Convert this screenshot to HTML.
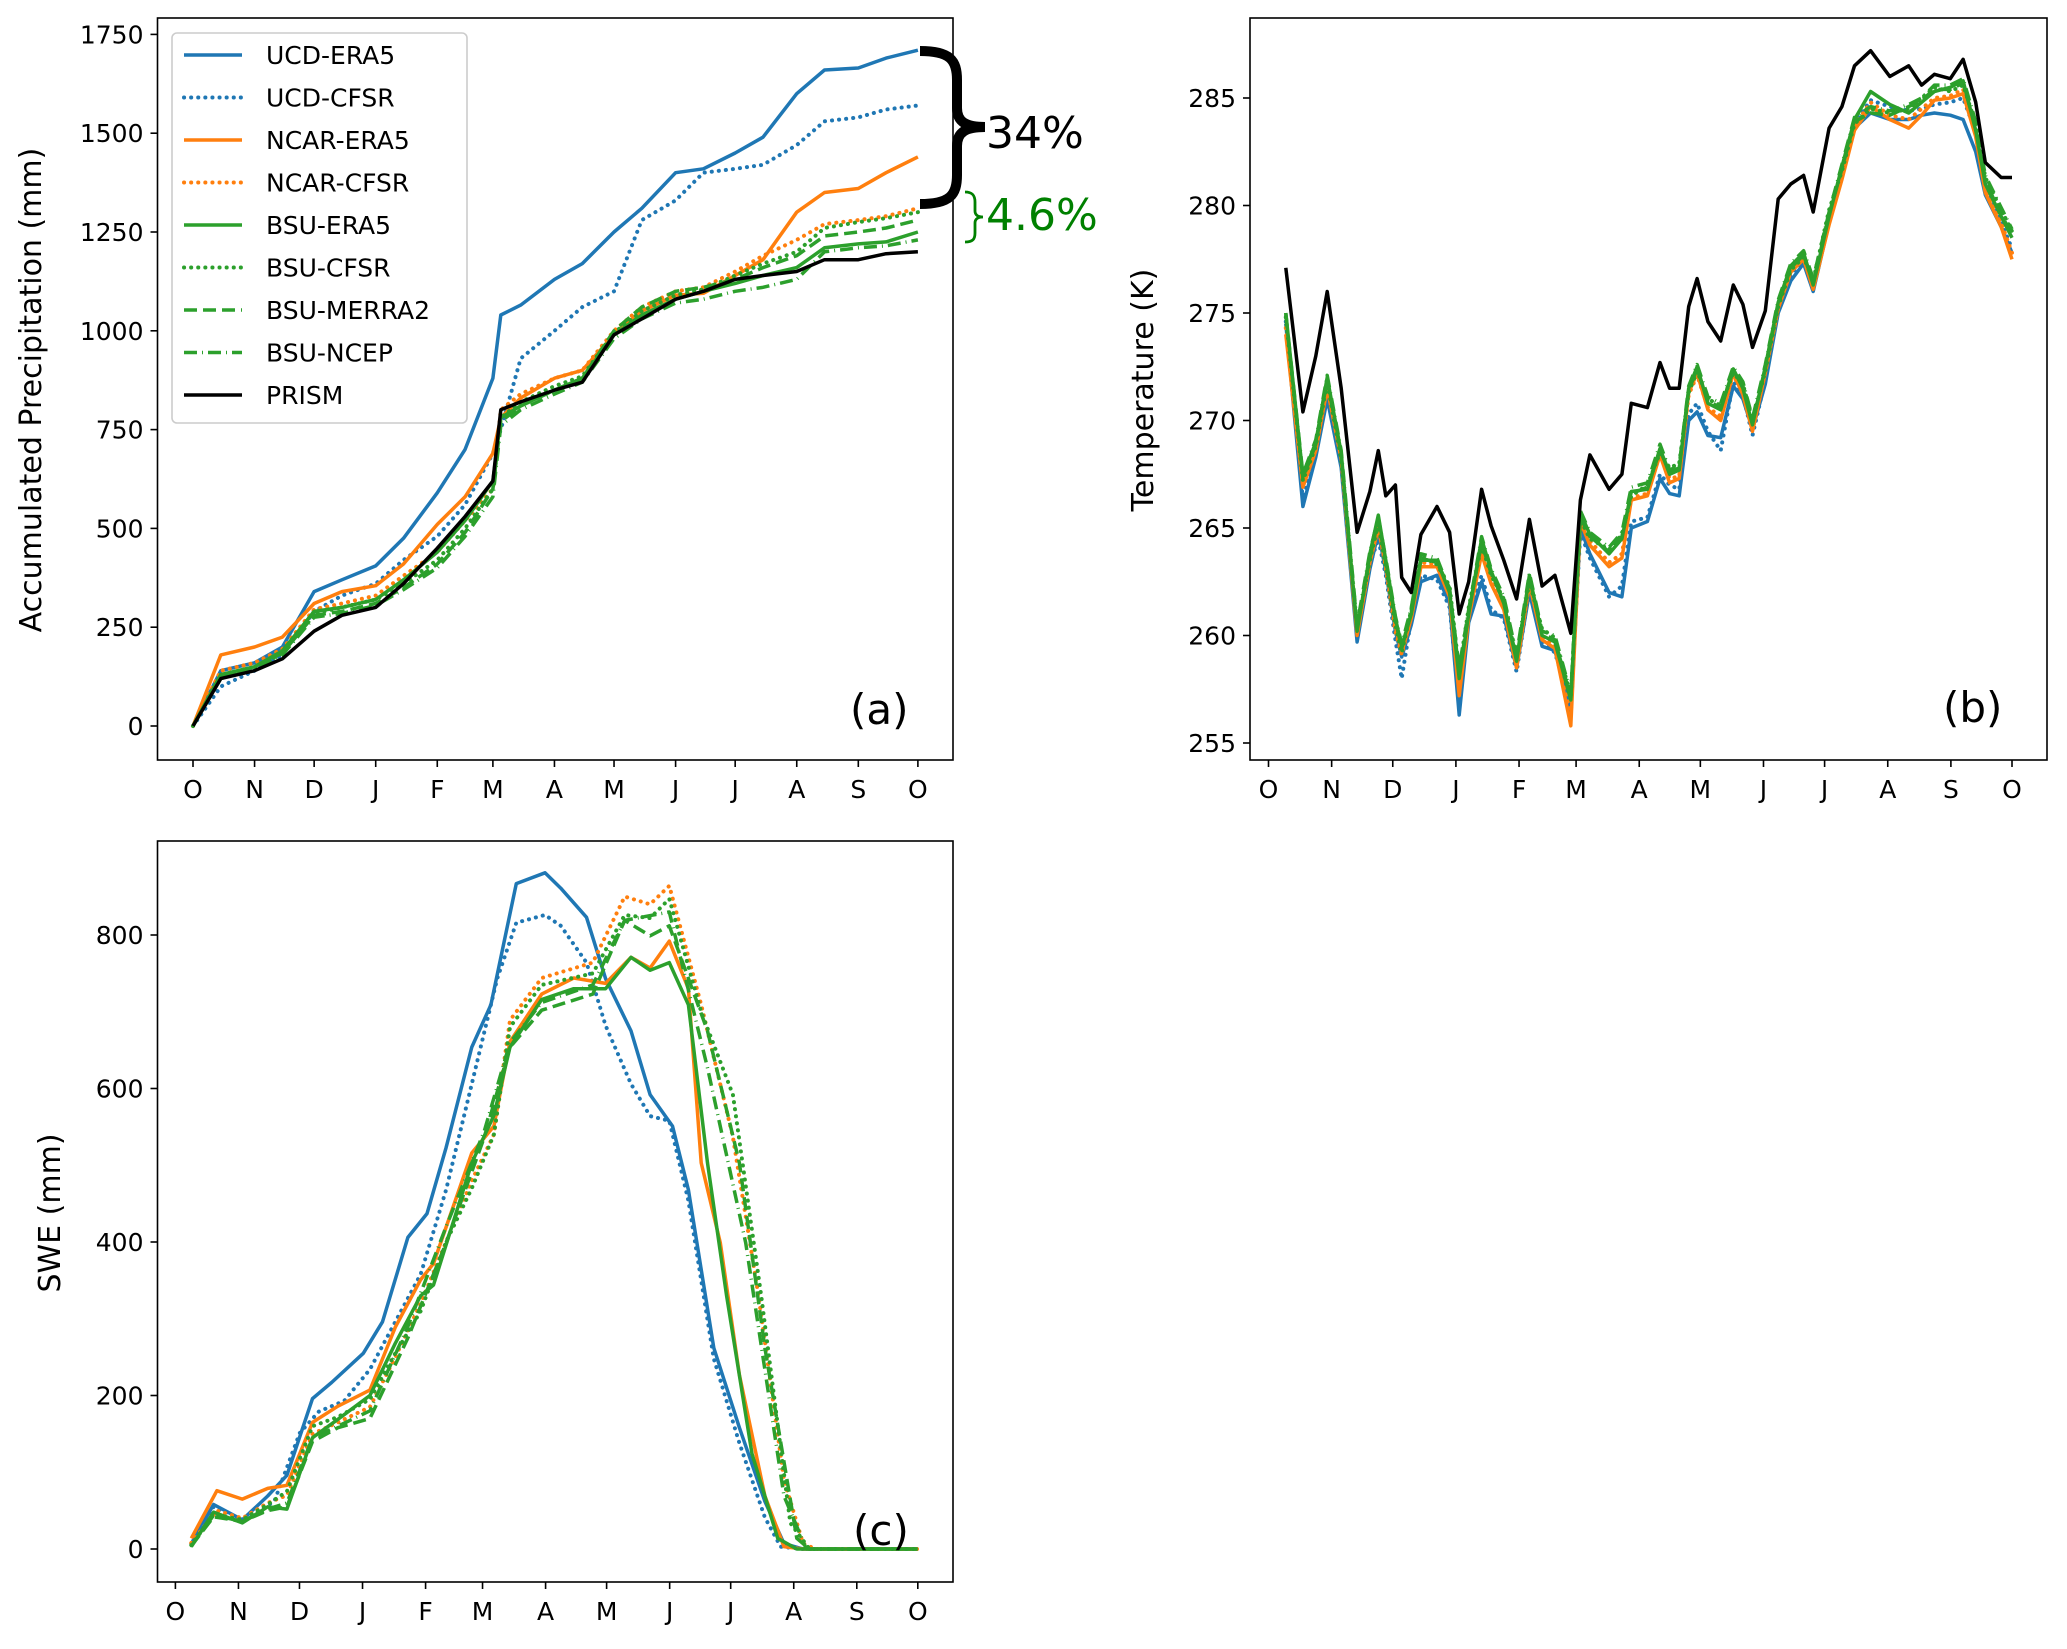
<!DOCTYPE html>
<html><head><meta charset="utf-8">
<style>
html,body{margin:0;padding:0;background:#fff;}
svg{display:block;font-family:"DejaVu Sans","Liberation Sans",sans-serif;}
</style></head>
<body>
<svg id="fig" width="2067" height="1649" viewBox="0 0 2067 1649" xmlns="http://www.w3.org/2000/svg">
<rect width="2067" height="1649" fill="#fff"/>
</svg>
<script>
// ---------- shared ----------
const monthLabels = ["O","N","D","J","F","M","A","M","J","J","A","S","O"];
const monthDays = [0,31,61,92,123,151,182,212,243,273,304,335,365];
const seriesNames = ["UCD-ERA5","UCD-CFSR","NCAR-ERA5","NCAR-CFSR","BSU-ERA5","BSU-CFSR","BSU-MERRA2","BSU-NCEP","PRISM"];
const seriesColors = ["#1f77b4","#1f77b4","#ff7f0e","#ff7f0e","#2ca02c","#2ca02c","#2ca02c","#2ca02c","#000000"];
const seriesDash = ["","0.1 7","","0.1 7","","0.1 7","13 6","13 5 1 5",""];

// ---------- panel (a): accumulated precipitation ----------
const precipTicks = [0,250,500,750,1000,1250,1500,1750];
const precipDays = [0,14,31,45,61,75,92,106,123,137,151,155,165,182,196,212,226,243,257,273,287,304,318,335,349,365];
const precipUCDERA5  = [0,140,160,200,340,370,405,475,590,700,880,1040,1065,1130,1170,1250,1310,1400,1410,1450,1490,1600,1660,1665,1690,1710];
const precipUCDCFSR  = [0,100,140,180,290,330,360,420,480,560,690,750,930,1000,1060,1100,1280,1330,1400,1410,1420,1470,1530,1540,1560,1570];
const precipNCARERA5 = [0,180,200,225,310,340,355,410,510,580,690,780,830,880,900,990,1050,1090,1095,1140,1180,1300,1350,1360,1400,1440];
const precipNCARCFSR = [0,140,160,195,295,310,330,380,440,520,600,800,840,880,900,1000,1060,1100,1110,1150,1190,1230,1270,1280,1290,1310];
const precipBSUERA5  = [0,130,150,190,290,300,320,370,440,520,620,780,810,850,880,990,1040,1080,1100,1120,1140,1160,1210,1220,1225,1250];
const precipBSUCFSR  = [0,125,145,185,285,300,320,360,420,500,600,780,820,860,885,995,1050,1090,1105,1140,1170,1200,1260,1275,1285,1300];
const precipBSUMERRA2= [0,125,150,185,280,290,310,350,410,490,600,770,810,850,880,1000,1060,1100,1110,1130,1160,1190,1240,1250,1260,1280];
const precipBSUNCEP  = [0,120,145,180,275,285,305,345,400,480,580,760,800,840,870,980,1030,1070,1080,1100,1110,1130,1200,1210,1215,1230];
const precipPRISM    = [0,120,140,170,240,280,300,360,450,530,620,800,820,850,870,990,1030,1080,1100,1130,1140,1150,1180,1180,1195,1200];

// ---------- panel (b): temperature ----------
const tempTicks = [255,260,265,270,275,280,285];
const tempDays = [8.5,16.9,23.2,28.8,35.7,43.5,49.8,53.9,57.6,62.3,65.4,70.1,74.8,82.7,88.9,93.6,98.3,104.6,109.3,115.5,121.8,128.1,134.3,140.6,148.4,153.1,157.8,167.2,173.5,178.1,186,192.2,196.9,201.6,206.3,210.4,215.7,222,228.2,232.9,237.6,243.9,250.2,256.4,262.7,267.4,275.2,281.5,287.7,295.6,305,314.3,320.6,326.9,334.7,341,347.2,351.9,359.7,365];
const tempPRISM   = [277.1,270.4,273,276,271.5,264.8,266.7,268.6,266.5,267,262.7,262,264.7,266,264.8,261,262.5,266.8,265.1,263.5,261.7,265.4,262.3,262.8,260.1,266.3,268.4,266.8,267.5,270.8,270.6,272.7,271.5,271.5,275.3,276.6,274.6,273.7,276.3,275.4,273.4,275.1,280.3,281,281.4,279.7,283.6,284.6,286.5,287.2,286,286.5,285.6,286.1,285.9,286.8,284.8,282,281.3,281.3];
const tempBSUERA5 = [275,267.4,269,272,268.5,260.2,263.8,265.6,263.5,260.8,259.5,261,263.5,263.5,262,258,261,264.5,263,261.5,258.8,262.8,260,259.7,257,265.7,264.7,263.8,264.5,266.7,266.8,268.7,267.5,267.7,271.5,272.5,270.8,270.5,272.4,271.5,269.8,272.5,275.5,277.2,277.8,276.3,279.5,281.8,284,285.3,284.7,284.3,284.8,285.3,285.5,285.8,283.5,281,279.5,278.5];
const tempBSUCFSR = [274.8,267.2,268.8,271.8,268.2,260.4,263.5,265.2,263.2,260.5,259.2,261.2,263.7,263.3,262.3,258.3,261.3,264.2,262.8,261.7,259,262.5,260.3,259.9,257.2,265.4,264.5,264,264.7,266.5,267,268.5,267.8,268,271.3,272.3,271,270.7,272.2,271.7,270,272.3,275.3,277,277.6,276.5,279.8,281.6,283.8,284.5,284.3,284.5,285,285.5,285.3,285.6,283.8,281.3,279.8,278.8];
const tempBSUMERRA2=[274.9,267.3,268.9,271.9,268.4,260.3,263.6,265.4,263.4,260.7,259.4,261.1,263.6,263.4,262.2,258.2,261.1,264.3,262.9,261.6,258.9,262.7,260.1,259.8,257.1,265.5,264.6,263.9,264.6,266.6,266.9,268.6,267.6,267.8,271.4,272.4,270.9,270.6,272.3,271.6,269.9,272.4,275.4,277.1,277.7,276.4,279.6,281.7,283.9,284.3,284.2,284.6,284.9,285.4,285.4,285.7,283.6,281.1,279.6,278.6];
const tempBSUNCEP = [275,267.5,269.1,272.1,268.6,260.5,263.9,265.5,263.6,260.9,259.6,261.3,263.8,263.6,262.1,258.5,261.2,264.6,263.1,261.8,259.1,262.9,260.2,260,257.3,265.8,264.8,264.1,264.8,266.9,267.1,268.9,267.7,267.9,271.6,272.6,271.1,270.8,272.5,271.8,270.1,272.6,275.6,277.3,277.9,276.6,279.7,281.9,284.1,284.6,284.4,284.7,285,285.6,285.6,285.9,283.9,281.4,279.9,278.9];
const tempUCDERA5 = [274.5,266,268.3,271,267.8,259.7,263.1,264.8,263,260.2,259,260.5,262.5,262.8,261.5,256.3,260.6,262.5,261,260.9,258.5,262,259.5,259.3,256.5,265,263.8,262,261.8,265,265.3,267.3,266.6,266.5,270,270.4,269.3,269.2,271.6,271,269.6,271.7,275,276.5,277.3,276,279.2,281.5,283.6,284.3,284,284,284.2,284.3,284.2,284,282.5,280.5,279,277.8];
const tempUCDCFSR = [274.6,266.3,268.5,271.2,268,260,263.3,264.5,262.8,259.8,258,260.8,262.8,262.6,261.3,256.8,260.8,262.8,261.2,260.8,258.3,262.2,259.8,259.2,256.8,264.8,263.6,261.8,262.3,265.3,265.5,267.5,267,266.8,270.3,270.8,269.5,268.6,271.8,271.2,269.3,271.9,275.2,276.8,277.5,276.2,279.4,281.6,283.8,284.9,284.6,284.4,284.5,284.7,284.8,285,283.4,281,279.2,278];
const tempNCARERA5= [274,266.9,268.6,271.5,268.2,260,263.4,265,263.2,260.4,259.2,260.8,263.2,263.2,261.8,257.2,260.8,263.8,262.4,261.2,258.5,262.4,259.8,259.4,255.8,265.3,264.2,263.2,263.6,266.3,266.5,268.4,267.1,267.3,271.3,272.2,270.5,270,272.2,271.2,269.5,272.2,275.2,276.9,277.5,276.1,279.1,281.2,283.5,284.6,284,283.6,284.2,284.9,285,285.2,283.2,280.6,279,277.5];
const tempNCARCFSR= [274.3,267,268.8,271.6,268.3,260.1,263.5,265.2,263.1,260.2,259.1,260.9,263.4,263.3,262,257.5,260.9,264,262.6,261.4,258.6,262.5,260,259.5,256.3,265.4,264.4,263.4,263.8,266.4,266.6,268.5,267.3,267.4,271.2,272.1,270.6,270.2,272.1,271.3,269.6,272.3,275.3,277,277.6,276.2,279.3,281.4,283.7,284.8,284.2,284,284.5,285,285.1,285.4,283.3,280.8,279.2,277.8];

// ---------- panel (c): SWE ----------
const sweTicks = [0,200,400,600,800];
const sweDaysUCDERA5 = [7.8,18.8,32.9,45.4,54.8,67.4,76.8,92.4,101.8,114.3,123.7,133.1,145.7,155.1,167.6,181.7,189.5,202.1,211.5,224,233.4,244.4,252.2,264.7,277.3,289.8,299.2,308.6,365];
const sweUCDERA5     = [7,58,38,69,96,196,217,255,296,406,437,523,654,709,867,881,861,823,743,675,592,551,468,262,158,62,7,0,0];
const sweDaysUCDCFSR = [7.8,18.8,32.9,48.6,61.1,70.5,83,95.6,108.1,120.6,133.1,145.7,158.2,167.6,181.7,189.5,202.1,211.5,224,233.4,242.8,252.2,264.7,277.3,289.8,297.6,308.6,365];
const sweUCDCFSR     = [7,55,38,62,151,179,193,234,296,358,468,606,743,816,826,812,764,682,606,564,558,454,248,138,41,3,0,0];
const sweDaysNCARERA5= [7.8,20.4,32.9,45.4,54.8,67.4,79.9,95.6,108.1,120.6,126.9,145.7,156.6,164.5,180.1,195.8,211.5,224,233.4,242.8,252.2,258.5,267.9,277.3,289.8,299.2,308.6,365];
const sweNCARERA5    = [14,76,65,79,83,165,186,207,289,351,372,516,551,661,723,744,737,771,757,792,730,503,399,227,69,3,0,0];
const sweDaysNCARCFSR= [7.8,20.4,32.9,45.4,54.8,67.4,79.9,95.6,108.1,120.6,133.1,145.7,156.6,164.5,180.1,205.2,220.9,233.4,242.8,258.5,274.1,286.7,299.2,308.6,314.8,365];
const sweNCARCFSR    = [8,50,40,60,70,150,165,185,250,320,400,480,540,689,744,764,850,840,864,709,537,330,90,7,0,0];
const sweDaysBSUERA5 = [7.8,18.8,32.9,45.4,54.8,67.4,79.9,95.6,108.1,120.6,126.9,145.7,156.6,164.5,180.1,195.8,211.5,224,233.4,242.8,252.2,261.6,271,283.5,296.1,305.5,365];
const sweBSUERA5     = [3,48,34,55,52,145,169,200,268,330,344,503,565,654,716,730,730,771,754,764,709,503,330,124,14,0,0];
const sweDaysBSUCFSR = [7.8,18.8,32.9,45.4,54.8,67.4,79.9,95.6,108.1,120.6,133.1,145.7,156.6,164.5,180.1,205.2,220.9,233.4,242.8,258.5,274.1,288,302.3,311.7,365];
const sweBSUCFSR     = [5,45,38,58,75,160,172,195,255,310,400,470,540,680,735,750,826,822,847,700,592,330,34,0,0];
const sweDaysBSUMERRA2=[7.8,18.8,32.9,45.4,54.8,67.4,79.9,95.6,114.3,133.1,151.9,164.5,180.1,205.2,220.9,233.4,242.8,261.6,277.3,289.8,305.5,311.7,365];
const sweBSUMERRA2   = [4,42,36,50,55,140,158,170,275,399,537,654,702,723,819,799,812,675,503,262,14,0,0];
const sweDaysBSUNCEP = [7.8,18.8,32.9,45.4,54.8,67.4,79.9,95.6,114.3,133.1,151.9,164.5,180.1,205.2,220.9,242.8,261.6,280.4,299.2,310.2,365];
const sweBSUNCEP     = [4,44,36,52,60,145,160,180,290,420,545,660,712,735,819,830,627,399,69,0,0];

// ---------- drawing ----------
const NS = "http://www.w3.org/2000/svg";
const fig = document.getElementById('fig');
function mk(tag, attrs, parent){
  const e = document.createElementNS(NS, tag);
  for (const k in attrs) e.setAttribute(k, attrs[k]);
  (parent||fig).appendChild(e);
  return e;
}
function txt(s, attrs, parent){ const t = mk('text', attrs, parent); t.textContent = s; return t; }
function isDot(i){ return seriesDash[i] === '0.1 7'; }

function makePanel(cfg){
  const g = mk('g', {});
  
  
  const sx = d => cfg.x0 + d * cfg.dx;
  const sy = v => cfg.yRef + (v - cfg.vRef) * cfg.dy;
  const cid = cfg.name + '-clip';
  const cp = mk('clipPath', {id: cid}, g);
  mk('rect', {x: cfg.L, y: cfg.T, width: cfg.R - cfg.L, height: cfg.B - cfg.T}, cp);
  const plot = mk('g', {'clip-path': 'url(#' + cid + ')'}, g);
  
  
  cfg.yTicks.forEach(v => {
    const y = sy(v);
    const tk = mk('line', {x1: cfg.L - 7, x2: cfg.L, y1: y, y2: y, stroke: '#000', 'stroke-width': 1.6}, g);
    
    
    const t = txt(String(v), {x: cfg.L - 14, y: y + 9, 'font-size': 25, 'text-anchor': 'end', fill: '#000'}, g);
    
    
  });
  monthDays.forEach((d, i) => {
    const x = sx(d);
    const tk = mk('line', {x1: x, x2: x, y1: cfg.B, y2: cfg.B + 7, stroke: '#000', 'stroke-width': 1.6}, g);
    
    
    const t = txt(monthLabels[i], {x: x, y: cfg.B + 38, 'font-size': 25, 'text-anchor': 'middle', fill: '#000'}, g);
    
    
  });
  cfg.series.forEach(s => {
    const pts = s.days.map((d, i) => sx(d).toFixed(1) + ',' + sy(s.vals[i]).toFixed(1)).join(' ');
    const p = mk('polyline', {points: pts, fill: 'none', stroke: seriesColors[s.idx], 'stroke-width': isDot(s.idx) ? 4 : 3.5,
      'stroke-dasharray': seriesDash[s.idx], 'stroke-linejoin': 'round', 'stroke-linecap': isDot(s.idx) ? 'round' : 'butt'}, plot);
    
    
  });
  const fr = mk('rect', {x: cfg.L, y: cfg.T, width: cfg.R - cfg.L, height: cfg.B - cfg.T, fill: 'none', stroke: '#000', 'stroke-width': 1.6}, g);
  
  
  const yt = txt(cfg.yTitle, {x: 0, y: 0, 'font-size': 30, 'text-anchor': 'middle', fill: '#000',
    transform: 'translate(' + cfg.ytx + ',' + cfg.yty + ') rotate(-90)'}, g);
  
  
  const lab = txt(cfg.label, {x: cfg.labX, y: cfg.labY, 'font-size': 42, fill: '#000'}, g);
  
  
  return g;
}

makePanel({name: 'panel-a-precipitation', L: 157.5, R: 953, T: 18, B: 760, x0: 193, dx: 1.986, yRef: 726, vRef: 0, dy: -0.3952,
  yTicks: precipTicks, yTitle: 'Accumulated Precipitation (mm)', ytx: 41, yty: 390, label: '(a)', labX: 850, labY: 724,
  series: [
    {idx: 0, days: precipDays, vals: precipUCDERA5},
    {idx: 1, days: precipDays, vals: precipUCDCFSR},
    {idx: 2, days: precipDays, vals: precipNCARERA5},
    {idx: 3, days: precipDays, vals: precipNCARCFSR},
    {idx: 4, days: precipDays, vals: precipBSUERA5},
    {idx: 5, days: precipDays, vals: precipBSUCFSR},
    {idx: 6, days: precipDays, vals: precipBSUMERRA2},
    {idx: 7, days: precipDays, vals: precipBSUNCEP},
    {idx: 8, days: precipDays, vals: precipPRISM}
  ]});

makePanel({name: 'panel-b-temperature', L: 1250, R: 2047, T: 18, B: 760, x0: 1268.5, dx: 2.037, yRef: 98, vRef: 285, dy: -21.5,
  yTicks: tempTicks, yTitle: 'Temperature (K)', ytx: 1153, yty: 390, label: '(b)', labX: 1943, labY: 722,
  series: [
    {idx: 1, days: tempDays, vals: tempUCDCFSR},
    {idx: 0, days: tempDays, vals: tempUCDERA5},
    {idx: 3, days: tempDays, vals: tempNCARCFSR},
    {idx: 2, days: tempDays, vals: tempNCARERA5},
    {idx: 5, days: tempDays, vals: tempBSUCFSR},
    {idx: 6, days: tempDays, vals: tempBSUMERRA2},
    {idx: 7, days: tempDays, vals: tempBSUNCEP},
    {idx: 4, days: tempDays, vals: tempBSUERA5},
    {idx: 8, days: tempDays, vals: tempPRISM}
  ]});

makePanel({name: 'panel-c-swe', L: 157.5, R: 953, T: 841, B: 1582, x0: 175.4, dx: 2.034, yRef: 1549, vRef: 0, dy: -0.7675,
  yTicks: sweTicks, yTitle: 'SWE (mm)', ytx: 60, yty: 1213, label: '(c)', labX: 853, labY: 1545,
  series: [
    {idx: 0, days: sweDaysUCDERA5, vals: sweUCDERA5},
    {idx: 1, days: sweDaysUCDCFSR, vals: sweUCDCFSR},
    {idx: 2, days: sweDaysNCARERA5, vals: sweNCARERA5},
    {idx: 3, days: sweDaysNCARCFSR, vals: sweNCARCFSR},
    {idx: 5, days: sweDaysBSUCFSR, vals: sweBSUCFSR},
    {idx: 6, days: sweDaysBSUMERRA2, vals: sweBSUMERRA2},
    {idx: 7, days: sweDaysBSUNCEP, vals: sweBSUNCEP},
    {idx: 4, days: sweDaysBSUERA5, vals: sweBSUERA5}
  ]});

// legend
const leg = mk('g', {});


mk('rect', {x: 172, y: 33, width: 295, height: 390, rx: 5, fill: '#fff', 'fill-opacity': 0.85, stroke: '#cccccc', 'stroke-width': 1.6}, leg);
seriesNames.forEach((n, i) => {
  const y = 55 + i * 42.5;
  const eg = mk('g', {}, leg);
  
  
  mk('line', {x1: 184, x2: 242, y1: y, y2: y, stroke: seriesColors[i], 'stroke-width': isDot(i) ? 4 : 3.5, 'stroke-dasharray': seriesDash[i],
    'stroke-linecap': isDot(i) ? 'round' : 'butt'}, eg);
  txt(n, {x: 266, y: y + 9, 'font-size': 25, fill: '#000'}, eg);
});

// annotations
const ann = mk('g', {});


const b1 = mk('path', {d: 'M920,51 C950,51 957,60 957,80 L957,108 C957,122 966,127 985,127 C966,127 957,132 957,146 L957,175 C957,195 950,204 920,204',
  fill: 'none', stroke: '#000', 'stroke-width': 10}, ann);


const t1 = txt('34%', {x: 986, y: 148, 'font-size': 44, fill: '#000'}, ann);


const b2 = mk('path', {d: 'M965,192 C973,192 975,196 975,202 L975,211 C975,215 978,217 983,217 C978,217 975,219 975,223 L975,233 C975,239 973,242 965,242',
  fill: 'none', stroke: '#008000', 'stroke-width': 2.8}, ann);


const t2 = txt('4.6%', {x: 986, y: 230, 'font-size': 44, fill: '#008000'}, ann);


</script>
</body></html>
